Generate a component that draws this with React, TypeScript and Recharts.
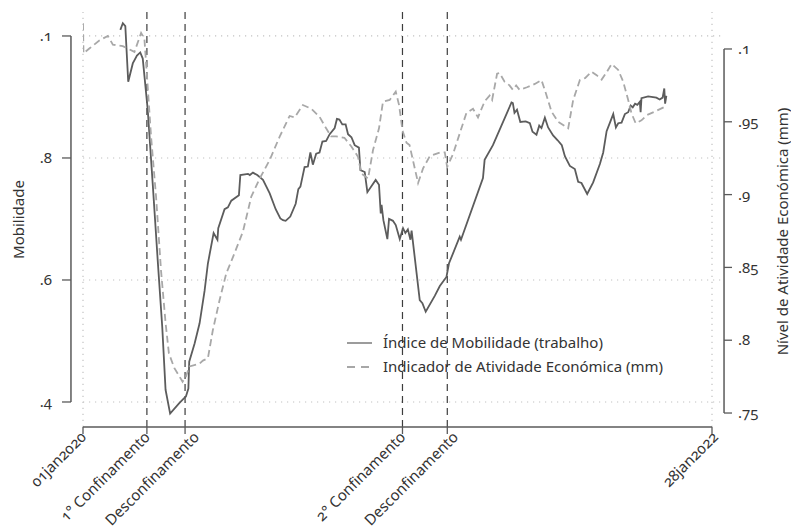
import React from 'react';
import { ComposedChart, Line, XAxis, YAxis, ReferenceLine, Legend } from 'recharts';

// ---------- data ----------
// days since 01jan2020, value (left axis: Mobilidade)
const MOBILITY: [number, number][] = [
  [45, 1.010], [48, 1.021], [51, 1.016], [54.5, 0.925], [60, 0.955], [65, 0.968], [69, 0.973], [72, 0.963],
  [78, 0.879], [84, 0.758], [90, 0.633], [95.5, 0.523], [99.5, 0.420], [105, 0.381], [116, 0.398], [121, 0.405],
  [124, 0.409], [127, 0.422], [128, 0.466], [134.5, 0.496], [140.5, 0.529], [146.5, 0.582], [150.5, 0.627],
  [157.4, 0.677], [162, 0.666], [163, 0.685], [170.6, 0.716], [174.6, 0.719], [178.7, 0.730], [187.9, 0.739],
  [189.6, 0.772], [198.8, 0.774], [201, 0.772], [204.8, 0.776], [210, 0.772], [216.9, 0.764], [225, 0.742],
  [232.2, 0.716], [237.8, 0.701], [241, 0.698], [244.2, 0.697], [249.8, 0.704], [256.3, 0.725], [259.5, 0.749],
  [262, 0.753], [267, 0.785], [271, 0.786], [274, 0.809], [277, 0.789], [281, 0.807], [285, 0.809], [288.5, 0.827],
  [293, 0.828], [297.3, 0.839], [303.3, 0.849], [306, 0.864], [309, 0.863], [312.5, 0.855], [316.5, 0.855],
  [319.4, 0.839], [323.5, 0.834], [327.4, 0.821], [332.5, 0.817], [334.3, 0.780], [339.5, 0.777], [342.7, 0.744],
  [352.7, 0.764], [356.7, 0.756], [358.8, 0.709], [359.8, 0.723], [362, 0.698], [366.8, 0.667], [368.8, 0.700],
  [373.5, 0.697], [376.9, 0.690], [381.7, 0.667], [385.7, 0.685], [388.5, 0.677], [391.5, 0.683], [394.6, 0.666],
  [396, 0.681], [405.8, 0.567], [409, 0.562], [413, 0.548], [423.9, 0.574], [430, 0.590], [438, 0.605],
  [441, 0.627], [454, 0.671], [455.5, 0.666], [482, 0.767], [484, 0.797], [494, 0.821], [516.4, 0.891],
  [518, 0.890], [520, 0.874], [523, 0.879], [527, 0.859], [533.5, 0.860], [538.5, 0.857], [541.7, 0.843],
  [546.5, 0.838], [549.8, 0.853], [552.5, 0.849], [556.6, 0.866], [560.5, 0.850], [566.5, 0.837], [572, 0.829],
  [577, 0.821], [580.7, 0.803], [586.7, 0.787], [592.7, 0.782], [596.7, 0.761], [600.7, 0.759], [607.6, 0.741],
  [614.8, 0.760], [622.9, 0.790], [626.9, 0.809], [631, 0.844], [639, 0.872], [642.2, 0.850], [645, 0.857],
  [649, 0.858], [653, 0.872], [657, 0.875], [660, 0.886], [662.5, 0.883], [665.3, 0.889], [668, 0.887],
  [671, 0.892], [672, 0.875], [673, 0.898], [681, 0.901], [691, 0.899], [695, 0.896], [698.5, 0.899],
  [700.5, 0.914], [701.5, 0.889], [703, 0.902],
];

// days since 01jan2020, value (right axis: Nível de Atividade Económica)
const ACTIVITY: [number, number][] = [
  [0, 1.0177], [0.6, 0.997], [8, 1.0005], [20, 1.006], [30, 1.009], [36, 1.003], [48, 1.002], [62, 0.998],
  [70, 1.011], [74, 1.007], [78, 0.974], [82, 0.940], [88, 0.899], [94, 0.848], [99.5, 0.812], [103.5, 0.791],
  [110, 0.781], [120, 0.7715], [124, 0.775], [128.4, 0.782], [140.5, 0.784], [144.5, 0.786], [150.5, 0.7876],
  [156.5, 0.807], [164.6, 0.8276], [172.7, 0.846], [180.7, 0.857], [192.7, 0.8745], [202.8, 0.8986],
  [212.9, 0.911], [225, 0.9238], [237, 0.9398], [249, 0.954], [255, 0.953], [265, 0.9615], [275, 0.959],
  [285, 0.9535], [293, 0.9455], [299, 0.940], [305, 0.940], [315, 0.939], [323.4, 0.933], [331.4, 0.926],
  [335.4, 0.9146], [343.5, 0.911], [349.5, 0.9306], [356.7, 0.9455], [361.5, 0.9638], [369.6, 0.965],
  [376.9, 0.9707], [380.9, 0.9615], [385, 0.944], [389.8, 0.9357], [393.5, 0.934], [403.8, 0.908],
  [409.8, 0.918], [418, 0.9265], [430, 0.9288], [436, 0.929], [438.8, 0.919], [446, 0.928], [454, 0.942],
  [462, 0.956], [470, 0.959], [476, 0.953], [484, 0.964], [490, 0.968], [493, 0.965], [499, 0.983],
  [502, 0.9835], [508, 0.9775], [514, 0.975], [518, 0.972], [522, 0.975], [526, 0.972], [535, 0.9737],
  [544.5, 0.976], [552.5, 0.9787], [557.8, 0.9696], [564.6, 0.957], [572.6, 0.950], [584.7, 0.9455],
  [590.7, 0.965], [598.8, 0.9787], [605, 0.980], [612.9, 0.9844], [619, 0.982], [625, 0.979], [631, 0.984],
  [637, 0.9897], [645, 0.9856], [651, 0.9775], [657, 0.965], [661, 0.9558], [666, 0.949], [673, 0.951],
  [680, 0.9547], [689, 0.957], [700, 0.960],
];

const X_TICKS = [0, 77, 123, 385, 439, 758];
const X_TICK_LABELS = ['01jan2020', '1° Confinamento', 'Desconfinamento', '2° Confinamento', 'Desconfinamento', '28jan2022'];
const EVENT_DAYS = [77, 123, 385, 439];

const LEFT_TICKS = [0.4, 0.6, 0.8, 1.0];
const LEFT_TICK_LABELS = ['.4', '.6', '.8', '.1'];
const RIGHT_TICKS = [0.75, 0.8, 0.85, 0.9, 0.95, 1.0];
const RIGHT_TICK_LABELS = ['.75', '.8', '.85', '.9', '.95', '.1'];

const SERIES_NAMES = ['Índice de Mobilidade (trabalho)', 'Indicador de Atividade Económica (mm)'];

// ---------- layout / style ----------
const W = 791;
const H = 532;
const X_DOMAIN: [number, number] = [0, 758];
const LEFT_DOMAIN: [number, number] = [0.359, 1.0393];
const RIGHT_DOMAIN: [number, number] = [0.7404, 1.0254];
const GRID_END_DAY = 770;
const LEFT_AXIS_DAY = -14.5;
const RIGHT_AXIS_DAY = 772.5;
const X_LABEL_DX = [0, 0, 11, 0, 8, 3];

const FONT = '"Noto Sans", Lato, "DejaVu Sans", sans-serif';
const NUM_STYLE: React.CSSProperties = { fontFeatureSettings: '"onum"', fontVariantNumeric: 'oldstyle-nums' };
const TEXT = '#333333';
const AXIS = '#5a5a5a';
const MOB_COLOR = '#5c5c5c';
const ACT_COLOR = '#a8a8a8';
const GRID = '#c2c2c2';

const mobData = MOBILITY.map(([d, v]) => ({ d, v }));
const actData = ACTIVITY.map(([d, v]) => ({ d, v }));

function XTick(props: any) {
  const { x, y, payload } = props;
  const i = X_TICKS.indexOf(payload.value);
  const label = i >= 0 ? X_TICK_LABELS[i] : '';
  const tx = x + 4 + (i >= 0 ? X_LABEL_DX[i] : 0);
  const ty = y + 4;
  return (
    <text x={tx} y={ty} transform={`rotate(-45 ${tx} ${ty})`} textAnchor="end" fontSize={15}
      fill={TEXT} fontFamily={FONT} style={NUM_STYLE}>{label}</text>
  );
}

function LeftTick(props: any) {
  const { x, y, payload } = props;
  const i = LEFT_TICKS.indexOf(payload.value);
  return (
    <g>
      <line x1={x - 12} x2={x - 21} y1={y} y2={y} stroke={AXIS} strokeWidth={1.3} />
      <text x={x - 31} y={y} dy="0.35em" textAnchor="end" fontSize={15} fill={TEXT} fontFamily={FONT} style={NUM_STYLE}>
        {i >= 0 ? LEFT_TICK_LABELS[i] : ''}
      </text>
    </g>
  );
}

function RightTick(props: any) {
  const { x, y, payload } = props;
  const i = RIGHT_TICKS.indexOf(payload.value);
  return (
    <g>
      <line x1={x + 12} x2={x + 20} y1={y} y2={y} stroke={AXIS} strokeWidth={1.3} />
      <text x={x + 26} y={y} dy="0.35em" textAnchor="start" fontSize={15} fill={TEXT} fontFamily={FONT} style={NUM_STYLE}>
        {i >= 0 ? RIGHT_TICK_LABELS[i] : ''}
      </text>
    </g>
  );
}

function LegendContent(props: any) {
  const payload: any[] = [...(props.payload || [])].sort(
    (a, b) => SERIES_NAMES.indexOf(a.value) - SERIES_NAMES.indexOf(b.value));
  return (
    <svg width={370} height={50} style={{ display: 'block', overflow: 'visible' }}>
      {payload.map((entry, i) => {
        const y = 12 + i * 24;
        const dashed = SERIES_NAMES.indexOf(entry.value) === 1;
        return (
          <g key={i}>
            <line x1={2} x2={27} y1={y} y2={y} stroke={dashed ? '#8a8a8a' : '#666666'} strokeWidth={1.3}
              strokeDasharray={dashed ? '8 6' : undefined} />
            <text x={38} y={y} dy="0.35em" fontSize={15} fill={TEXT} fontFamily={FONT}>{entry.value}</text>
          </g>
        );
      })}
    </svg>
  );
}

export default function App() {
  return (
    <div style={{ position: 'absolute', left: 0, top: 0, width: W, height: H, background: '#ffffff' }}>
      <ComposedChart width={W} height={H} margin={{ top: 12, right: 0, bottom: 0, left: 0 }}>
        <XAxis dataKey="d" type="number" domain={X_DOMAIN} ticks={X_TICKS} interval={0} allowDataOverflow
          height={105} tick={XTick} tickSize={7} tickMargin={0}
          tickLine={{ stroke: AXIS, strokeWidth: 1.3 }} axisLine={{ stroke: AXIS, strokeWidth: 1.5 }} />
        <YAxis yAxisId="left" orientation="left" width={83} domain={LEFT_DOMAIN} ticks={LEFT_TICKS} interval={0}
          allowDataOverflow axisLine={false} tickLine={false} tickSize={0} tickMargin={0} tick={LeftTick}
          label={(p: any) => {
            const vb = p.viewBox || { x: 0, y: 12, width: 83, height: 415 };
            const cx = vb.x + 19;
            const cy = vb.y + vb.height / 2;
            return (
              <text x={cx} y={cy} transform={`rotate(-90 ${cx} ${cy})`} textAnchor="middle" dy="0.35em"
                fontSize={15} fill={TEXT} fontFamily={FONT}>Mobilidade</text>
            );
          }} />
        <YAxis yAxisId="right" orientation="right" width={79} domain={RIGHT_DOMAIN} ticks={RIGHT_TICKS} interval={0}
          allowDataOverflow axisLine={false} tickLine={false} tickSize={0} tickMargin={0} tick={RightTick}
          label={(p: any) => {
            const vb = p.viewBox || { x: 712, y: 12, width: 79, height: 415 };
            const cx = vb.x + 71;
            const cy = vb.y + vb.height / 2 + 12;
            return (
              <text x={cx} y={cy} transform={`rotate(-90 ${cx} ${cy})`} textAnchor="middle" dy="0.35em"
                fontSize={15} fill={TEXT} fontFamily={FONT}>Nível de Atividade Económica (mm)</text>
            );
          }} />

        {LEFT_TICKS.map((v) => (
          <ReferenceLine key={`g${v}`} yAxisId="left" ifOverflow="visible"
            segment={[{ x: 0, y: v }, { x: GRID_END_DAY, y: v }]}
            stroke={GRID} strokeWidth={1.2} strokeDasharray="1.2 4.8" />
        ))}
        <ReferenceLine yAxisId="left" x={X_DOMAIN[0]} stroke={GRID} strokeWidth={1.2} strokeDasharray="1.2 4.8" />
        <ReferenceLine yAxisId="left" x={X_DOMAIN[1]} stroke={GRID} strokeWidth={1.2} strokeDasharray="1.2 4.8" />

        <ReferenceLine yAxisId="left" ifOverflow="visible"
          segment={[{ x: LEFT_AXIS_DAY, y: LEFT_TICKS[0] }, { x: LEFT_AXIS_DAY, y: LEFT_TICKS[LEFT_TICKS.length - 1] }]}
          stroke={AXIS} strokeWidth={1.5} />
        <ReferenceLine yAxisId="right" ifOverflow="visible"
          segment={[{ x: RIGHT_AXIS_DAY, y: RIGHT_TICKS[0] }, { x: RIGHT_AXIS_DAY, y: RIGHT_TICKS[RIGHT_TICKS.length - 1] }]}
          stroke={AXIS} strokeWidth={1.5} />

        {EVENT_DAYS.map((d) => (
          <ReferenceLine key={`e${d}`} yAxisId="left" x={d} stroke="#3d3d3d" strokeWidth={1.2} strokeDasharray="7 5" />
        ))}

        <Line yAxisId="left" data={mobData} dataKey="v" name={SERIES_NAMES[0]} type="linear"
          stroke={MOB_COLOR} strokeWidth={1.8} dot={false} activeDot={false} isAnimationActive={false} />
        <Line yAxisId="right" data={actData} dataKey="v" name={SERIES_NAMES[1]} type="linear"
          stroke={ACT_COLOR} strokeWidth={1.8} strokeDasharray="7 4" dot={false} activeDot={false} isAnimationActive={false} />

        <Legend layout="vertical" align="center" verticalAlign="middle" content={LegendContent}
          wrapperStyle={{ position: 'absolute', left: 345, top: 331, width: 370, height: 50 }} />
      </ComposedChart>
    </div>
  );
}
